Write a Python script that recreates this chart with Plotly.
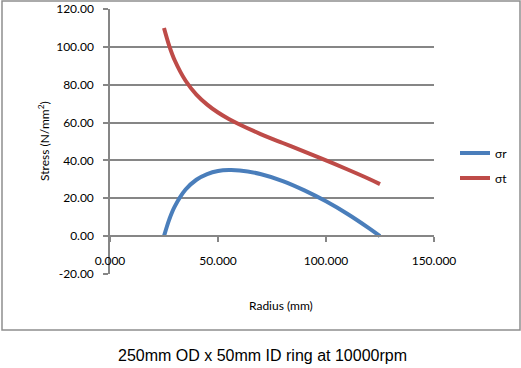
import plotly.graph_objects as go

radius = [25, 27.5, 30, 35, 40, 45, 50, 55, 60, 70, 80, 90, 100, 110, 120, 125]
sigma_r = [0.0, 9.0, 15.7, 24.6, 29.8, 32.8, 34.4, 34.9, 34.7, 32.7, 29.1, 24.2, 18.4, 11.7, 4.1, 0.0]
sigma_t = [110.0, 100.3, 92.8, 82.1, 74.8, 69.5, 65.3, 61.9, 59.0, 53.8, 49.2, 44.7, 40.0, 35.2, 30.2, 27.5]
series_names = ["σr", "σt"]
x_ticks = [0, 50, 100, 150]
y_ticks = [-20, 0, 20, 40, 60, 80, 100, 120]
title_text = "250mm OD x 50mm ID ring at 10000rpm"

FONT = "Lato, 'Liberation Sans', sans-serif"
GRID = "#868686"

W, H = 521, 368
L, R, T, B = 110, 87, 9, 94
pw, ph = W - L - R, H - T - B

def px(x):
    return (x - L) / pw

def py(y):
    return (H - B - y) / ph

fig = go.Figure()
fig.add_trace(go.Scatter(x=radius, y=sigma_r, name=series_names[0], mode="lines",
                         line=dict(color="#4A7EBB", width=4, shape="spline"),
                         legend="legend"))
fig.add_trace(go.Scatter(x=radius, y=sigma_t, name=series_names[1], mode="lines",
                         line=dict(color="#BE4B48", width=4, shape="spline"),
                         legend="legend2"))

leg_common = dict(xref="container", yref="container", xanchor="left", yanchor="middle",
                  bgcolor="rgba(0,0,0,0)", font=dict(size=12), itemwidth=30)

ymin, ymax = -20, 120
fig.update_layout(
    width=W, height=H,
    margin=dict(l=L, r=R, t=T, b=B, autoexpand=False),
    paper_bgcolor="white", plot_bgcolor="white",
    font=dict(family=FONT, size=12, color="black"),
    xaxis=dict(range=[0, 150], tickvals=x_ticks,
               ticktext=[f"{v:.3f}" for v in x_ticks],
               showgrid=False, zeroline=False, showline=True, linecolor=GRID, linewidth=1.5,
               ticks="outside", ticklen=5, tickcolor=GRID, tickwidth=1.5,
               anchor="free", position=(0 - ymin) / (ymax - ymin),
               ticklabelstandoff=9, automargin=False),
    yaxis=dict(range=[ymin, ymax], tickvals=y_ticks,
               ticktext=[f"{v:.2f}" for v in y_ticks],
               showgrid=True, gridcolor=GRID, gridwidth=1.5, zeroline=False,
               showline=True, linecolor=GRID, linewidth=1.5,
               ticks="outside", ticklen=5, tickcolor=GRID, tickwidth=1.5,
               ticklabelstandoff=7, automargin=False),
    legend=dict(x=455 / W, y=1 - 153 / H, **leg_common),
    legend2=dict(x=455 / W, y=1 - 178 / H, **leg_common),
    showlegend=True,
)

fig.add_annotation(text="Stress (N/mm<sup>2</sup>)", xref="paper", yref="paper",
                   x=px(44), y=py(141), textangle=-90, showarrow=False,
                   xanchor="center", yanchor="middle", font=dict(size=12))
fig.add_annotation(text="Radius (mm)", xref="paper", yref="paper",
                   x=px(281), y=py(305), showarrow=False,
                   xanchor="center", yanchor="middle", font=dict(size=12))
fig.add_annotation(text=title_text, xref="paper", yref="paper",
                   x=px(262), y=py(355), showarrow=False,
                   xanchor="center", yanchor="middle",
                   font=dict(family="'Liberation Sans', Arial, sans-serif", size=16, color="black"))
fig.add_shape(type="rect", xref="paper", yref="paper",
              x0=px(2), x1=px(520), y0=py(330), y1=py(1),
              line=dict(color="#8e8e8e", width=1.5), layer="below")

fig.write_html("out.html", config={"displayModeBar": False},
               post_script="document.body.style.margin='0';")
